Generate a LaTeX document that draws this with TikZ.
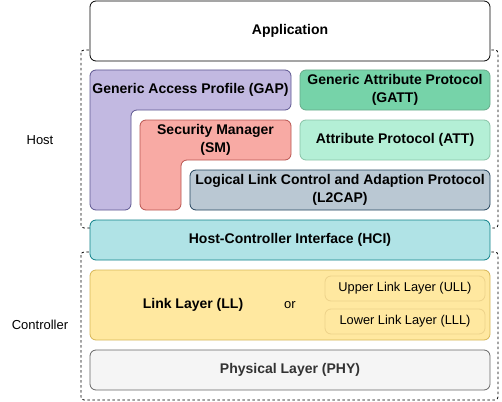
\documentclass[tikz,border=0pt]{standalone}
\usepackage{fontspec}
\setmainfont{Liberation Sans}
\definecolor{gapfill}{HTML}{C2B9E1}
\definecolor{gapline}{HTML}{5C5690}
\definecolor{smfill}{HTML}{F8AAA4}
\definecolor{smline}{HTML}{B85450}
\definecolor{gattfill}{HTML}{76D3A9}
\definecolor{gattline}{HTML}{67AB8A}
\definecolor{attfill}{HTML}{B4EFD6}
\definecolor{attline}{HTML}{88C2A6}
\definecolor{l2fill}{HTML}{BAC8D3}
\definecolor{l2line}{HTML}{23445D}
\definecolor{hcifill}{HTML}{B0E3E6}
\definecolor{hciline}{HTML}{0E8088}
\definecolor{llfill}{HTML}{FFE8A0}
\definecolor{llline}{HTML}{D6B656}
\definecolor{subline}{HTML}{EDD28A}
\definecolor{phyfill}{HTML}{F5F5F5}
\definecolor{phyline}{HTML}{666666}
\definecolor{phytext}{HTML}{333333}
\tikzset{
  lbl/.style={font=\fontsize{14}{18}\selectfont\bfseries, align=center, inner sep=0pt},
  plain/.style={font=\fontsize{13}{16}\selectfont, align=center, inner sep=0pt},
  small/.style={font=\fontsize{12.8}{15}\selectfont, align=center, inner sep=0pt},
  layer/.style={rounded corners=6pt, line width=0.8pt},
  group/.style={dash pattern=on 2.5pt off 2.5pt, rounded corners=3pt, line width=0.8pt},
}
\begin{document}
\begin{tikzpicture}[x=1pt,y=-1pt]
\useasboundingbox (0,0) rectangle (502,401);
% dashed groups
\draw[group] (81,50) rectangle (498,228);
\draw[group] (81,252) rectangle (498,400);
% application
\draw[layer, fill=white] (90,1) rectangle (490,61);
\node[lbl] (app) at (290,31) {Application};
% GAP L-shape
\draw[layer, fill=gapfill, draw=gapline] (90,70) -- (291,70) -- (291,110) -- (131,110) -- (131,210) -- (90,210) -- cycle;
\node[lbl] (gap) at (190.5,90) {Generic Access Profile (GAP)};
% SM L-shape
\draw[layer, fill=smfill, draw=smline] (140,120) -- (291,120) -- (291,160) -- (181,160) -- (181,210) -- (140,210) -- cycle;
\node[lbl] (sm) at (215.5,140) {Security Manager\\(SM)};
% GATT
\draw[layer, fill=gattfill, draw=gattline] (300,70) rectangle (490,110);
\node[lbl] (gatt) at (395,90) {Generic Attribute Protocol\\(GATT)};
% ATT
\draw[layer, fill=attfill, draw=attline] (300,120) rectangle (490,160);
\node[lbl] (att) at (395,140) {Attribute Protocol (ATT)};
% L2CAP
\draw[layer, fill=l2fill, draw=l2line] (190,170) rectangle (490,210);
\node[lbl] (l2cap) at (340,190) {Logical Link Control and Adaption Protocol\\(L2CAP)};
% HCI
\draw[layer, fill=hcifill, draw=hciline] (90,220) rectangle (490,260);
\node[lbl] (hci) at (290,240) {Host-Controller Interface (HCI)};
% LL
\draw[layer, fill=llfill, draw=llline] (90,270) rectangle (490,340);
\node[lbl] (ll) at (193,305) {Link Layer (LL)};
\node[plain] (or) at (290,305) {or};
\draw[layer, fill=llfill, draw=subline] (325,276) rectangle (485,301);
\node[small] (ull) at (405,288.5) {Upper Link Layer (ULL)};
\draw[layer, fill=llfill, draw=subline] (325,309) rectangle (485,334);
\node[small] (lll) at (405,321.5) {Lower Link Layer (LLL)};
% PHY
\draw[layer, fill=phyfill, draw=phyline] (90,350) rectangle (490,390);
\node[lbl, text=phytext] (phy) at (290,370) {Physical Layer (PHY)};
% side labels
\node[plain] (host) at (40,140) {Host};
\node[plain] (ctrl) at (40,325) {Controller};
\end{tikzpicture}
\end{document}
